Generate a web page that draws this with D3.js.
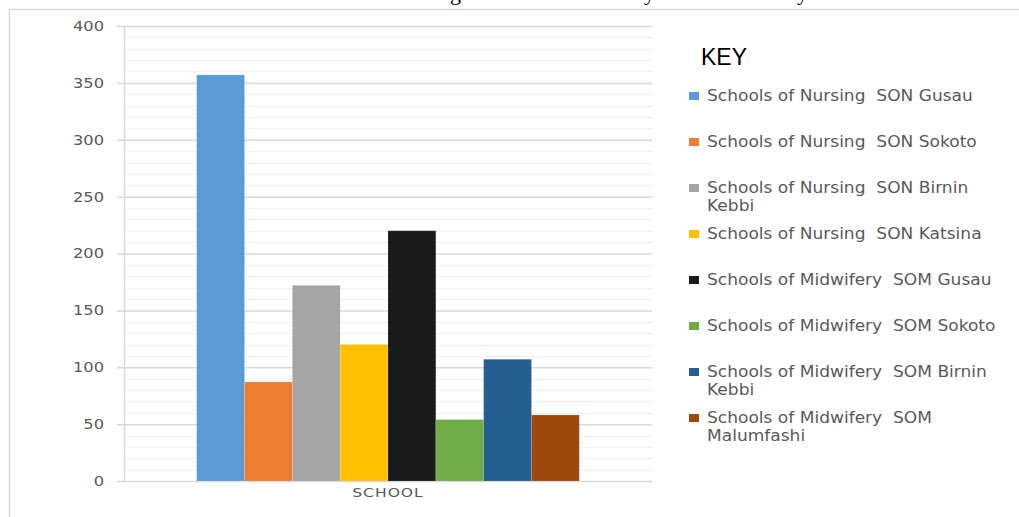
<!DOCTYPE html>
<html>
<head>
<meta charset="utf-8">
<script src="https://cdn.jsdelivr.net/npm/d3@7"></script>
<style>
    html, body { margin: 0; padding: 0; background: #fff; }
    svg { display: block; }
    text { white-space: pre; }
</style>
</head>
<body>
<div id="chart"></div>
<script>
"use strict";

// data
var categories = ["SCHOOL"];
var seriesNames = [
    "Schools of Nursing  SON Gusau",
    "Schools of Nursing  SON Sokoto",
    "Schools of Nursing  SON Birnin Kebbi",
    "Schools of Nursing  SON Katsina",
    "Schools of Midwifery  SOM Gusau",
    "Schools of Midwifery  SOM Sokoto",
    "Schools of Midwifery  SOM Birnin Kebbi",
    "Schools of Midwifery  SOM Malumfashi"
];
var seriesValues = [357, 87, 172, 120, 220, 54, 107, 58];
var seriesColors = ["#5b9bd5", "#ed7d31", "#a5a5a5", "#ffc000", "#1a1a1a", "#70ad47", "#255e91", "#9e480e"];
var yTicks = [0, 50, 100, 150, 200, 250, 300, 350, 400];
var legendTitle = "KEY";
// the page title is cut off above the frame, only descenders show
var titleBits = [{t: "g", x: 450}, {t: "y", x: 644}, {t: "y", x: 797}];

var W = 1019, H = 517;
var plot = {left: 124, right: 652, top: 26, bottom: 481};

var svg = d3.select("#chart").append("svg")
    .attr("width", W)
    .attr("height", H);

svg.append("rect").attr("width", W).attr("height", H).attr("fill", "#fff");

// cut-off title
svg.append("g").selectAll("text").data(titleBits).join("text")
    .attr("x", function (d) { return d.x; })
    .attr("y", 0)
    .attr("font-family", "Liberation Serif, serif")
    .attr("font-size", 22)
    .attr("fill", "#000")
    .text(function (d) { return d.t; });

// frame
svg.append("path")
    .attr("d", "M9.5," + H + "V9.5H" + W)
    .attr("fill", "none")
    .attr("stroke", "#d9d9d9")
    .attr("stroke-width", 1.5);

var y = d3.scaleLinear().domain([0, 400]).range([plot.bottom, plot.top]);

var x0 = d3.scaleBand().domain(categories)
    .range([plot.left, plot.right])
    .paddingOuter(0.19);
var x1 = d3.scaleBand().domain(seriesNames)
    .range([0, x0.bandwidth()])
    .padding(0);

// minor gridlines every 10
var minor = d3.range(10, 400, 10).filter(function (v) { return v % 50 !== 0; });
svg.append("g").selectAll("line").data(minor).join("line")
    .attr("x1", plot.left + 1).attr("x2", plot.right)
    .attr("y1", function (d) { return Math.round(y(d)) + 0.5; })
    .attr("y2", function (d) { return Math.round(y(d)) + 0.5; })
    .attr("stroke", "#f2f2f2")
    .attr("stroke-width", 1.5);

// major gridlines + labels
var tickLeft = 117;
var tickStretch = 1.16;
var yAxis = d3.axisLeft(y)
    .tickValues(yTicks)
    .tickSizeInner(-(plot.right - tickLeft))
    .tickSizeOuter(0)
    .tickPadding(13);
var yg = svg.append("g")
    .attr("transform", "translate(" + tickLeft + ",0)")
    .call(yAxis);
yg.select(".domain").remove();
yg.selectAll(".tick line").attr("stroke", "#d9d9d9").attr("stroke-width", 1.5);
yg.selectAll(".tick text")
    .attr("x", -13 / tickStretch)
    .attr("transform", "scale(" + tickStretch + ",1)")
    .attr("font-family", "DejaVu Sans, sans-serif")
    .attr("font-size", 14)
    .attr("fill", "#595959");

// vertical axis line
svg.append("line")
    .attr("x1", plot.left + 0.5).attr("x2", plot.left + 0.5)
    .attr("y1", plot.top).attr("y2", plot.bottom)
    .attr("stroke", "#d9d9d9")
    .attr("stroke-width", 1.5);

// bars
var groups = svg.append("g").selectAll("g").data(categories).join("g")
    .attr("transform", function (c) { return "translate(" + x0(c) + ",0)"; });
groups.selectAll("rect")
    .data(seriesNames.map(function (n, i) { return {name: n, value: seriesValues[i], color: seriesColors[i]}; }))
    .join("rect")
    .attr("x", function (d) { return x1(d.name); })
    .attr("width", x1.bandwidth())
    .attr("y", function (d) { return y(d.value); })
    .attr("height", function (d) { return y(0) - y(d.value); })
    .attr("fill", function (d) { return d.color; })
    .attr("stroke", "#ffffff")
    .attr("stroke-opacity", 0.12)
    .attr("stroke-width", 1);

// category label
var catStretch = 1.2;
svg.append("g").selectAll("text").data(categories).join("text")
    .attr("transform", function (c) {
        return "translate(" + (x0(c) + x0.bandwidth() / 2) + ",497) scale(" + catStretch + ",1)";
    })
    .attr("text-anchor", "middle")
    .attr("font-family", "DejaVu Sans, sans-serif")
    .attr("font-size", 13)
    .attr("letter-spacing", 0.8)
    .attr("fill", "#595959")
    .text(function (c) { return c; });

// legend
var legend = svg.append("g");
legend.append("text")
    .attr("x", 701)
    .attr("y", 65)
    .attr("font-family", "Liberation Sans, sans-serif")
    .attr("font-size", 23)
    .attr("fill", "#000")
    .text(legendTitle);

var legX = 689, legY = 101, rowStep = 46, lineH = 18, maxW = 305;
var legStretch = 1.137;
seriesNames.forEach(function (name, i) {
    var row = legend.append("g").attr("transform", "translate(" + legX + "," + (legY + i * rowStep) + ")");
    row.append("rect")
        .attr("x", 0).attr("y", -9)
        .attr("width", 10).attr("height", 8)
        .attr("fill", seriesColors[i]);
    var txt = row.append("text")
        .attr("transform", "translate(18,0) scale(" + legStretch + ",1)")
        .attr("font-family", "DejaVu Sans, sans-serif")
        .attr("font-size", 15)
        .attr("fill", "#595959");
    // simple word wrap
    var words = name.split(" ");
    var line = [], lineNo = 0;
    var tspan = txt.append("tspan").attr("x", 0).attr("y", 0);
    words.forEach(function (w) {
        line.push(w);
        tspan.text(line.join(" "));
        if (tspan.node().getComputedTextLength() * legStretch > maxW && line.length > 1) {
            line.pop();
            tspan.text(line.join(" "));
            line = [w];
            lineNo += 1;
            tspan = txt.append("tspan").attr("x", 0).attr("y", lineNo * lineH).text(w);
        }
    });
});
</script>
</body>
</html>
